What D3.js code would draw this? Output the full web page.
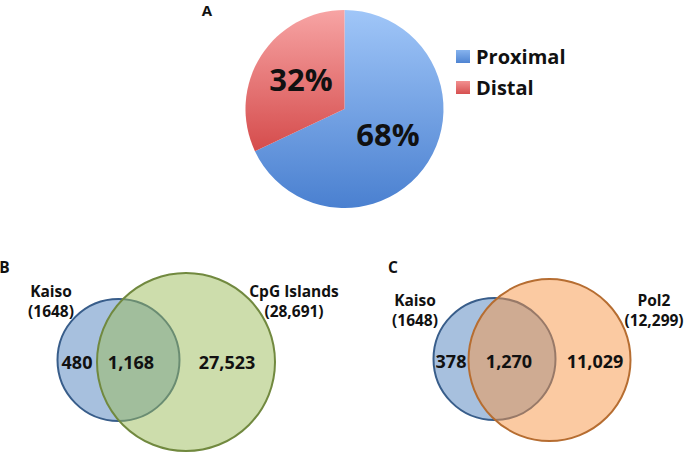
<!DOCTYPE html>
<html>
<head>
<meta charset="utf-8">
<script src="https://cdn.jsdelivr.net/npm/d3@7"></script>
<style>
  html, body { margin: 0; padding: 0; background: #fff; }
  svg { display: block; }
  text { font-family: "Open Sans", "DejaVu Sans", sans-serif; font-weight: 700; fill: #111; }
</style>
</head>
<body>
<svg id="chart" width="685" height="452"></svg>
<script>
// ---- data ----
const pieCategories = ["Proximal", "Distal"];
const pieValues = [68, 32];

const vennBNames = ["Kaiso", "CpG Islands"];
const vennBTotals = ["1648", "28,691"];
const vennBRegions = ["480", "1,168", "27,523"];

const vennCNames = ["Kaiso", "Pol2"];
const vennCTotals = ["1648", "12,299"];
const vennCRegions = ["378", "1,270", "11,029"];

const panelLabels = ["A", "B", "C"];

// ---- drawing ----
const svg = d3.select("#chart");
const defs = svg.append("defs");

function grad(id, top, bottom) {
  const g = defs.append("linearGradient").attr("id", id)
    .attr("x1", 0).attr("y1", 0).attr("x2", 0).attr("y2", 1);
  g.append("stop").attr("offset", "0%").attr("stop-color", top);
  g.append("stop").attr("offset", "100%").attr("stop-color", bottom);
}
grad("gBlue", "#a0c6f8", "#4a80d0");
grad("gRed", "#f7a4a4", "#d54c4c");
grad("gBlueLeg", "#86b3ee", "#4f84d2");
grad("gRedLeg", "#f29090", "#d65050");

const pieFill = d3.scaleOrdinal().domain(pieCategories).range(["url(#gBlue)", "url(#gRed)"]);
const legFill = d3.scaleOrdinal().domain(pieCategories).range(["url(#gBlueLeg)", "url(#gRedLeg)"]);

// Panel A: pie
const pieCx = 344.5, pieCy = 109, pieR = 99;
const pie = d3.pie().sort(null).value(d => d.v);
const arcs = pie(pieCategories.map((c, i) => ({ c, v: pieValues[i] })));
const arc = d3.arc().innerRadius(0).outerRadius(pieR);
const gPie = svg.append("g").attr("transform", `translate(${pieCx},${pieCy})`);
gPie.selectAll("path").data(arcs).join("path")
  .attr("d", arc)
  .attr("fill", d => pieFill(d.data.c));

const labelArc = d3.arc().innerRadius(pieR * 0.52).outerRadius(pieR * 0.52);
gPie.selectAll("text.pct").data(arcs).join("text")
  .attr("class", "pct")
  .attr("text-anchor", "middle")
  .attr("font-size", 31)
  .attr("transform", d => {
    const [x, y] = labelArc.centroid(d);
    return `translate(${x},${y - 2})`;
  })
  .attr("dy", "0.36em")
  .text(d => d.data.v + "%");

// legend
const legY = d3.scalePoint().domain(pieCategories).range([57, 88]);
const leg = svg.append("g");
leg.selectAll("rect").data(pieCategories).join("rect")
  .attr("x", 456).attr("y", d => legY(d) - 7)
  .attr("width", 14).attr("height", 13)
  .attr("fill", d => legFill(d));
leg.selectAll("text").data(pieCategories).join("text")
  .attr("x", 476).attr("y", d => legY(d) + 7)
  .attr("font-size", 20)
  .text(d => d);

// panel letters
const letterPos = [[207, 16], [4.5, 273], [393, 273]];
svg.selectAll("text.panel").data(panelLabels).join("text")
  .attr("class", "panel")
  .attr("text-anchor", "middle")
  .attr("font-size", (d, i) => i === 0 ? 15 : 15.5)
  .attr("x", (d, i) => letterPos[i][0])
  .attr("y", (d, i) => letterPos[i][1])
  .text(d => d);

// Venn diagrams
function venn(cfg) {
  const g = svg.append("g");
  // circles: first set (Kaiso), then second set on top
  g.append("circle")
    .attr("cx", cfg.c1[0]).attr("cy", cfg.c1[1]).attr("r", cfg.c1[2])
    .attr("fill", "#4f81bd").attr("fill-opacity", 0.5)
    .attr("stroke", "#385d8a").attr("stroke-width", 2);
  g.append("circle")
    .attr("cx", cfg.c2[0]).attr("cy", cfg.c2[1]).attr("r", cfg.c2[2])
    .attr("fill", cfg.fill2).attr("fill-opacity", 0.5)
    .attr("stroke", cfg.stroke2).attr("stroke-width", 2);

  // set name labels
  cfg.names.forEach((n, i) => {
    const p = cfg.namePos[i];
    g.append("text").attr("text-anchor", "middle").attr("font-size", 15.5)
      .attr("x", p[0]).attr("y", p[1]).text(n);
    g.append("text").attr("text-anchor", "middle").attr("font-size", 15.5)
      .attr("x", p[0]).attr("y", p[1] + 20).text("(" + cfg.totals[i] + ")");
  });
  // region counts
  g.selectAll("text.reg").data(cfg.regions).join("text")
    .attr("class", "reg")
    .attr("text-anchor", "middle").attr("font-size", 18)
    .attr("x", (d, i) => cfg.regionX[i]).attr("y", cfg.regionY)
    .text(d => d);
}

venn({
  c1: [118.5, 360, 61], c2: [186, 362, 89],
  fill2: "#9bbb59", stroke2: "#71893f",
  names: vennBNames, totals: vennBTotals,
  namePos: [[51, 297], [294, 297]],
  regions: vennBRegions, regionX: [77, 131, 227], regionY: 369
});

venn({
  c1: [494.5, 359, 61], c2: [549.5, 360, 81],
  fill2: "#f79646", stroke2: "#b66d31",
  names: vennCNames, totals: vennCTotals,
  namePos: [[415, 306], [654, 306]],
  regions: vennCRegions, regionX: [451, 509, 595], regionY: 368
});
</script>
</body>
</html>
